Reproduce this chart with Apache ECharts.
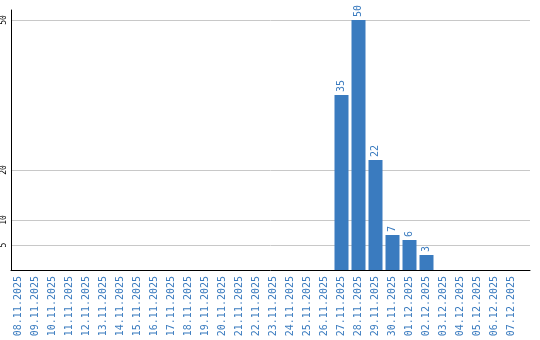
<!DOCTYPE html>
<html><head><meta charset="utf-8">
<script src="https://cdn.jsdelivr.net/npm/echarts@6/dist/echarts.min.js"></script>
<style>html,body{margin:0;padding:0;background:#fff}#c{width:540px;height:340px}</style>
</head><body><div id="c"></div>
<script>
var categories = ["08.11.2025","09.11.2025","10.11.2025","11.11.2025","12.11.2025","13.11.2025","14.11.2025","15.11.2025","16.11.2025","17.11.2025","18.11.2025","19.11.2025","20.11.2025","21.11.2025","22.11.2025","23.11.2025","24.11.2025","25.11.2025","26.11.2025","27.11.2025","28.11.2025","29.11.2025","30.11.2025","01.12.2025","02.12.2025","03.12.2025","04.12.2025","05.12.2025","06.12.2025","07.12.2025"];
var values = [0,0,0,0,0,0,0,0,0,0,0,0,0,0,0,0,0,0,0,35,50,22,7,6,3,0,0,0,0,0];
var yTicks = [5,10,20,50];

var blue = '#3a7bbf';
var chart = echarts.init(document.getElementById('c'), null, {renderer:'canvas'});
chart.setOption({
  animation:false,
  grid:[
    {left:10,right:10,top:10,bottom:70,z:0},
    {left:10,right:20,top:10,bottom:70,z:5}
  ],
  xAxis:[
    {gridIndex:0,type:'value',min:0,max:1,z:10,axisLine:{show:true,onZero:false,lineStyle:{color:'#000',width:1}},axisTick:{show:false},axisLabel:{show:false},splitLine:{show:false}},
    {gridIndex:1,type:'category',data:categories,axisLine:{show:false},axisTick:{show:false},
     axisLabel:{interval:0,rotate:90,color:blue,fontFamily:'DejaVu Sans Mono',fontSize:10,margin:6}}
  ],
  yAxis:[
    {gridIndex:0,type:'value',min:0,max:52,interval:5,z:10,axisLine:{show:true,lineStyle:{color:'#000',width:1}},axisTick:{show:false},splitLine:{show:false},
     axisLabel:{showMaxLabel:false,rotate:90,margin:3,color:'#000',fontFamily:'DejaVu Sans Mono',fontSize:8,
       formatter:function(v){return yTicks.indexOf(v)>=0?String(v):'';}}},
    {gridIndex:1,type:'value',min:0,max:52,show:false,splitLine:{show:false}}
  ],
  series:[
    {type:'line',xAxisIndex:0,yAxisIndex:0,data:[],silent:true,z:0,zlevel:0,
     markLine:{silent:true,z:0,symbol:['none','none'],label:{show:false},lineStyle:{type:'solid',color:'#c8c8c8',width:1},
       data:yTicks.map(function(t){return {yAxis:t};})}},
    {type:'bar',xAxisIndex:1,yAxisIndex:1,data:values,barWidth:14,z:5,zlevel:1,itemStyle:{color:blue},
     label:{show:true,position:'top',rotate:90,align:'left',verticalAlign:'middle',distance:3,color:blue,fontFamily:'DejaVu Sans Mono',fontSize:10,
       formatter:function(p){return p.value>0?String(p.value):'';}}}
  ]
});
</script></body></html>
